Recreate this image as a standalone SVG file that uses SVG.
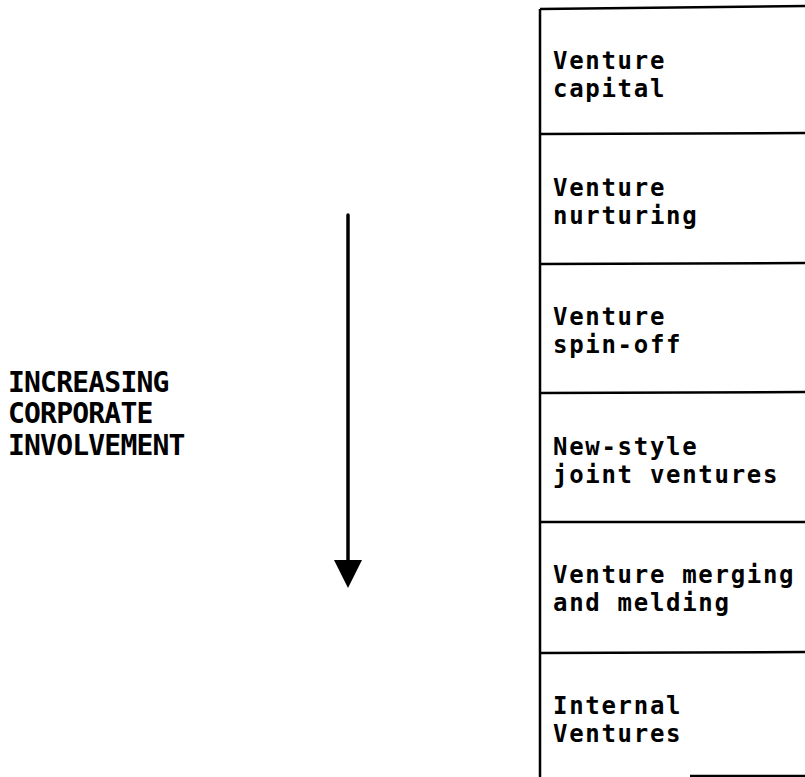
<svg xmlns="http://www.w3.org/2000/svg" width="805" height="777" viewBox="0 0 805 777">
  <style>
    .rule { stroke: #000; stroke-width: 2.5; fill: none; }
    .item { font-family: "DejaVu Sans Mono", "Liberation Mono", monospace; font-size: 24px; font-weight: bold; letter-spacing: 1.7px; fill: #000; }
    .label { font-family: "DejaVu Sans Mono", "Liberation Mono", monospace; font-size: 28px; font-weight: bold; letter-spacing: -0.8px; fill: #000; }
  </style>
  <defs>
    <marker id="head" viewBox="0 0 28 28" refX="0" refY="14" markerWidth="28" markerHeight="28" markerUnits="userSpaceOnUse" orient="auto">
      <path d="M0,0 L28,14 L0,28 Z" fill="#000"/>
    </marker>
  </defs>
  <rect width="805" height="777" fill="#fff"/>

  <!-- side label -->
  <g id="label-involvement">
    <text class="label" x="8" y="392">INCREASING</text>
    <text class="label" x="8" y="423">CORPORATE</text>
    <text class="label" x="8" y="455">INVOLVEMENT</text>
  </g>

  <!-- outer frame of the stack -->
  <g id="frame">
    <line class="rule" x1="540" y1="9" x2="540" y2="777"/>
    <line class="rule" x1="540" y1="9" x2="805" y2="6"/>
    <line class="rule" x1="690" y1="776" x2="805" y2="776"/>
  </g>

  <g id="venture-capital">
    <text class="item" x="553" y="69">Venture</text>
    <text class="item" x="553" y="97">capital</text>
  </g>
  <g id="venture-nurturing">
    <line class="rule" x1="540" y1="134" x2="805" y2="133"/>
    <text class="item" x="553" y="196">Venture</text>
    <text class="item" x="553" y="224">nurturing</text>
  </g>
  <g id="venture-spin-off">
    <line class="rule" x1="540" y1="264" x2="805" y2="263"/>
    <text class="item" x="553" y="325">Venture</text>
    <text class="item" x="553" y="353">spin-off</text>
  </g>
  <g id="new-style-joint-ventures">
    <line class="rule" x1="540" y1="393" x2="805" y2="392"/>
    <text class="item" x="553" y="455">New-style</text>
    <text class="item" x="553" y="483">joint ventures</text>
  </g>
  <g id="venture-merging">
    <line class="rule" x1="540" y1="522" x2="805" y2="522"/>
    <text class="item" x="553" y="583">Venture merging</text>
    <text class="item" x="553" y="611">and melding</text>
  </g>
  <g id="internal-ventures">
    <line class="rule" x1="540" y1="653" x2="805" y2="652"/>
    <text class="item" x="553" y="714">Internal</text>
    <text class="item" x="553" y="742">Ventures</text>
  </g>

  <g id="connectors">
    <line x1="348" y1="215" x2="348" y2="560" stroke="#000" stroke-width="3.5" stroke-linecap="round" marker-end="url(#head)"/>
  </g>
</svg>
